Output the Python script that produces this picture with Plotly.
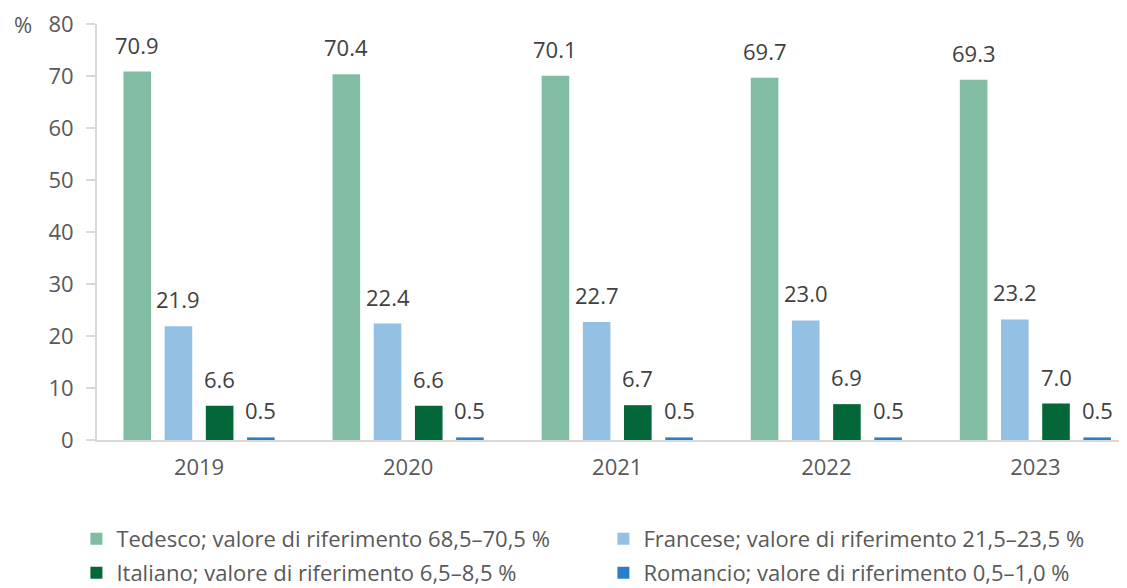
import plotly.graph_objects as go

years = ["2019", "2020", "2021", "2022", "2023"]
series_names = [
    "Tedesco; valore di riferimento 68,5–70,5 %",
    "Francese; valore di riferimento 21,5–23,5 %",
    "Italiano; valore di riferimento 6,5–8,5 %",
    "Romancio; valore di riferimento 0,5–1,0 %",
]
tedesco = [70.9, 70.4, 70.1, 69.7, 69.3]
francese = [21.9, 22.4, 22.7, 23.0, 23.2]
italiano = [6.6, 6.6, 6.7, 6.9, 7.0]
romancio = [0.5, 0.5, 0.5, 0.5, 0.5]
colors = ["#80BDA3", "#93C0E3", "#04673A", "#2A80C8"]
y_ticks = [0, 10, 20, 30, 40, 50, 60, 70, 80]

FONT = "Open Sans"
TXT = "#595959"
LBL = "#404040"
FS = 22

series = [tedesco, francese, italiano, romancio]
legend_ids = ["legend", "legend", "legend2", "legend2"]
fig = go.Figure()
for name, vals, col, lg in zip(series_names, series, colors, legend_ids):
    fig.add_trace(go.Bar(x=years, y=vals, name=name, legend=lg,
                         marker=dict(color=col, line=dict(width=0)), hoverinfo="skip"))

slot_px = 41.2
offsets = [-1.5 * slot_px, -0.5 * slot_px, 0.5 * slot_px, 1.5 * slot_px]
for vals, off in zip(series, offsets):
    for i, v in enumerate(vals):
        fig.add_annotation(x=i, y=v, xref="x", yref="y", text=f"{v:.1f}", showarrow=False,
                           xanchor="center", yanchor="bottom", xshift=off, yshift=10,
                           font=dict(family=FONT, size=FS, color=LBL))

fig.add_annotation(x=0, y=80, xref="paper", yref="y", text="%", showarrow=False,
                   xanchor="right", yanchor="middle", xshift=-63,
                   font=dict(family=FONT, size=FS, color=TXT))

leg_common = dict(orientation="h", xanchor="left", yanchor="middle",
                  entrywidth=482, entrywidthmode="pixels",
                  font=dict(family=FONT, size=FS, color=TXT),
                  traceorder="normal", itemclick=False, bgcolor="rgba(0,0,0,0)")

# page body has an 8px default margin: figure is sized/offset to compensate
fig.update_layout(
    width=1119, height=580,
    margin=dict(l=89, r=0, t=16, b=148, autoexpand=False),
    paper_bgcolor="white", plot_bgcolor="white",
    barmode="group", bargap=0.212, bargroupgap=0.33,
    font=dict(family=FONT, size=FS, color=TXT),
    xaxis=dict(type="category", range=[-0.488, 4.438], showline=True, linecolor="#D9D9D9",
               linewidth=2, ticks="", showgrid=False, tickfont=dict(size=FS, color=TXT),
               ticklabelstandoff=7, automargin=False, fixedrange=True),
    yaxis=dict(range=[0, 80.05], tickvals=y_ticks, showline=True, linecolor="#D9D9D9", linewidth=2,
               ticks="outside", ticklen=9, tickcolor="#D9D9D9", tickwidth=2, showgrid=False,
               zeroline=False, tickfont=dict(size=FS, color=TXT), ticklabelstandoff=8,
               ticklabeloverflow="allow", automargin=False),
    legend=dict(x=-0.020, y=-(539 - 440) / 416, **leg_common),
    legend2=dict(x=-0.020, y=-(573 - 440) / 416, **leg_common),
    showlegend=True,
)

fig.write_html("out.html")
